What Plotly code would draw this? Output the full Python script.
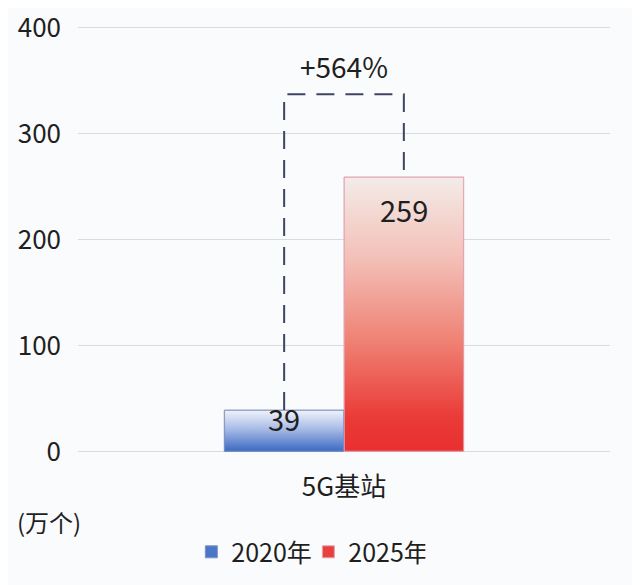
import base64
import plotly.graph_objs as go

categories = ['5G基站']
series_names = ['2020年', '2025年']
series_values = [39, 259]
growth_label = '+564%'
unit_label = '(万个)'
y_ticks = [0, 100, 200, 300, 400]

FONT = 'Noto Sans CJK SC, Noto Sans, sans-serif'
TEXT = '#1f1f1f'
BG = '#fafbfd'
BARGAP = 0.55
BRACKET_LEVEL = 337

# (gradient stops top->bottom, outline, legend colour)
styles = [
    ([(0, '#f1f3fb'), (0.45, '#a9bce6'), (1, '#3a69c2')], '#7f93bf', '#4a75c9'),
    ([(0, '#f3ece8'), (0.3, '#f3bfb7'), (0.6, '#ef8173'), (0.88, '#ea3a37'), (1, '#e8302f')],
     '#e2a3b4', '#e8403f'),
]


def gradient_uri(stops, outline):
    stop_tags = ''.join(
        f'<stop offset="{o}" stop-color="{c}"/>' for o, c in stops
    )
    svg = (
        '<svg xmlns="http://www.w3.org/2000/svg" viewBox="0 0 100 100" '
        'preserveAspectRatio="none">'
        f'<defs><linearGradient id="g" x1="0" y1="0" x2="0" y2="1">{stop_tags}'
        '</linearGradient></defs>'
        f'<rect x="0" y="0" width="100" height="100" fill="url(#g)" stroke="{outline}" '
        'stroke-width="1.5" vector-effect="non-scaling-stroke"/></svg>'
    )
    return 'data:image/svg+xml;base64,' + base64.b64encode(svg.encode()).decode()


fig = go.Figure()
bar_w = (1 - BARGAP) / len(series_names)
images = []
annotations = []
for i, (name, v) in enumerate(zip(series_names, series_values)):
    stops, outline, colour = styles[i]
    fig.add_trace(
        go.Bar(
            x=categories, y=[v], name=name,
            marker=dict(color=colour, line=dict(color=outline, width=1)),
            hoverinfo='skip',
        )
    )
    left = -(1 - BARGAP) / 2 + i * bar_w
    images.append(dict(
        source=gradient_uri(stops, outline), xref='x', yref='y',
        x=left, y=v, sizex=bar_w, sizey=v, xanchor='left', yanchor='top',
        sizing='stretch', layer='above',
    ))
    annotations.append(dict(
        x=left + bar_w / 2, y=max(v - 30, v * 0.8), xref='x', yref='y',
        text=str(v), showarrow=False, yanchor='middle',
        font=dict(size=29, color=TEXT, family=FONT),
    ))

x_a = -bar_w / 2
x_b = bar_w / 2
fig.add_shape(
    type='path', xref='x', yref='y',
    path=f'M {x_a},{series_values[0]} L {x_a},{BRACKET_LEVEL} '
         f'L {x_b},{BRACKET_LEVEL} L {x_b},{series_values[1]}',
    line=dict(color='#3f4463', width=2, dash='18px,11px'),
    layer='above',
)
annotations.append(dict(
    x=0, y=BRACKET_LEVEL, xref='x', yref='y', text=growth_label,
    showarrow=False, yanchor='bottom', yshift=6,
    font=dict(size=28, color=TEXT, family=FONT),
))
annotations.append(dict(
    x=-0.118, y=-0.16, xref='paper', yref='paper', text=unit_label,
    showarrow=False, xanchor='left', yanchor='middle',
    font=dict(size=24, color=TEXT, family=FONT),
))

fig.update_layout(
    width=640, height=585,
    margin=dict(l=70, r=38, t=18, b=140, autoexpand=False),
    barmode='group', bargap=BARGAP, bargroupgap=0,
    paper_bgcolor=BG, plot_bgcolor=BG,
    font=dict(family=FONT, color=TEXT, size=24),
    images=images, annotations=annotations,
    showlegend=True,
    legend=dict(
        orientation='h', x=0.433, y=-0.232, xanchor='center', yanchor='middle',
        font=dict(size=25, color=TEXT, family=FONT), bgcolor='rgba(0,0,0,0)',
        itemwidth=30, entrywidth=72,
    ),
)
fig.update_yaxes(
    range=[-1.5, 401.5], tickvals=y_ticks, showgrid=True, gridcolor='#d9dbdf',
    gridwidth=1, zeroline=False, showline=False, ticklabelstandoff=16,
    ticklabeloverflow='allow', automargin=False,
    tickfont=dict(size=26, color=TEXT),
)
fig.update_xaxes(
    showline=False, ticklabelstandoff=16, automargin=False,
    tickfont=dict(size=26, color=TEXT),
)

fig.write_html('out.html')
